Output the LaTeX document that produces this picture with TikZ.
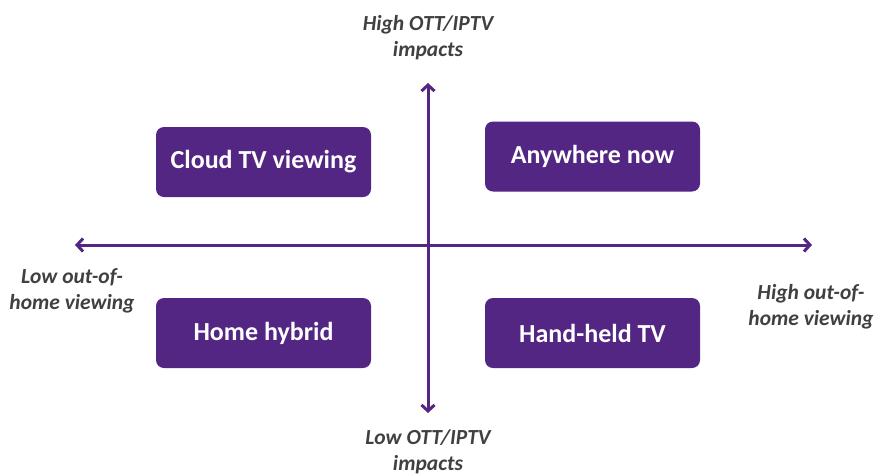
\documentclass[tikz,border=0pt]{standalone}
\usepackage{fontspec}
\setmainfont{Carlito}
\usetikzlibrary{arrows.meta}
\definecolor{quadpurple}{HTML}{522682}
\definecolor{axisgray}{HTML}{404040}
\begin{document}
\begin{tikzpicture}[x=1pt,y=-1pt]
			\useasboundingbox (0,0) rectangle (875,475);
			\begin{scope}[every node/.style={fill=quadpurple,rounded corners=8pt,minimum width=215pt,minimum height=70pt,text=white,font=\fontsize{26}{30}\selectfont\bfseries}]
				\node (cloud) at (263.5,162) {Cloud TV viewing};
				\node (anywhere) at (592.5,156.5) {Anywhere now};
				\node (hybrid) at (263.5,333) {Home hybrid};
				\node (handheld) at (592.5,333) {Hand-held TV};
			\end{scope}
			
			\begin{scope}[every node/.style={align=center,text=axisgray,font=\fontsize{21.5}{26}\selectfont\bfseries\itshape}]
				\node (high) at (428,38) {High OTT/IPTV\\impacts};
				\node (low) at (428,452) {Low OTT/IPTV\\impacts};
				\node (left) at (72,291) {Low out-of-\\home viewing};
				\node (right) at (811,307) {High out-of-\\home viewing};
			\end{scope}
			
			\begin{scope}[line width=3pt,quadpurple,{Straight Barb[length=6pt,width=13pt]}-{Straight Barb[length=6pt,width=13pt]}]
				\coordinate (west) at (75,245);
				\coordinate (east) at (812,245);
				\coordinate (north) at (428,83);
				\coordinate (south) at (428,413);
				\draw (west) -- (east);
				\draw (north) -- (south);
			\end{scope}
		\end{tikzpicture}
\end{document}
